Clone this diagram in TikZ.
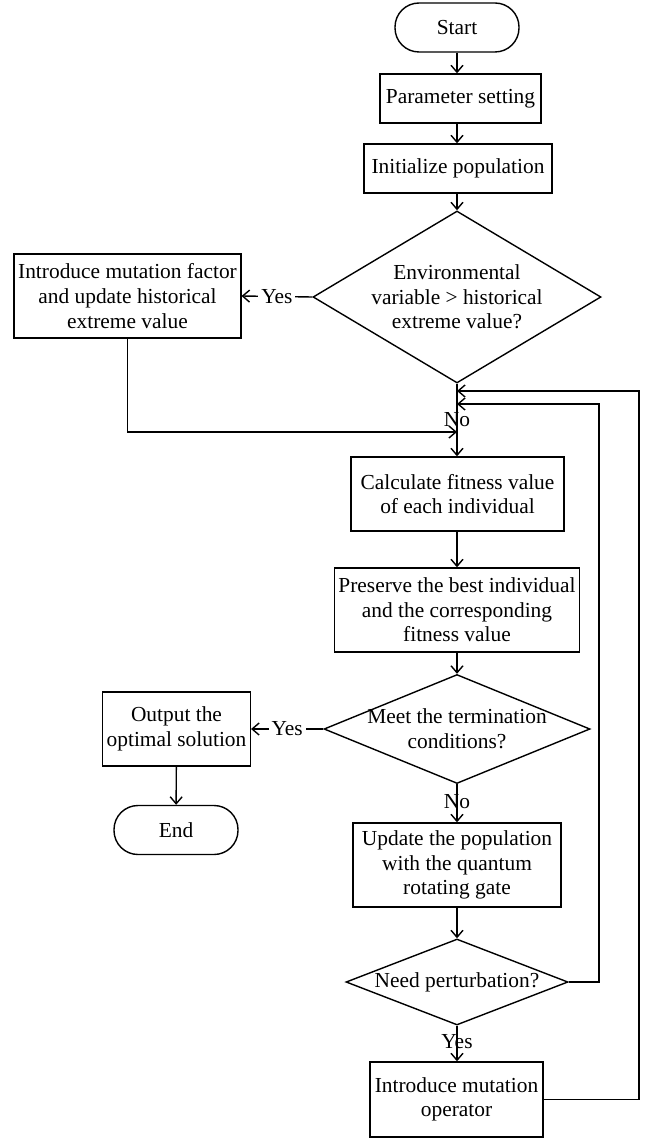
\documentclass[tikz,border=0pt]{standalone}
\usepackage{fontspec}
\setmainfont{Liberation Serif}
\usetikzlibrary{arrows.meta, shapes.geometric}

\tikzset{
  procbox/.style={draw, align=center, inner sep=2pt},
  termbox/.style={draw, rounded corners=12pt, minimum width=62pt, minimum height=24.5pt},
  decbox/.style={draw, diamond, inner sep=0pt},
  flow/.style={-{Straight Barb[length=3.5pt,width=6pt]}},
  yeslbl/.style={fill=white, inner sep=1.5pt}
}

\begin{document}
\begin{tikzpicture}[x=0.5pt, y=-0.5pt, line width=0.7pt, font=\fontsize{10.7}{12.3}\selectfont]
    \useasboundingbox (0,0) rectangle (649,1139);
    % main column
    \node[termbox] (start) at (457,27.5) {Start};
    \node[procbox, minimum width=80.5pt, minimum height=24.5pt] (param) at (460.5,98.5) {Parameter setting};
    \node[procbox, minimum width=94pt, minimum height=24.5pt] (init) at (458,168.5) {Initialize population};
    \node[decbox, minimum width=144pt, minimum height=86pt,
          label={[align=center]center:Environmental\\variable > historical\\extreme value?}] (envdec) at (457,297) {};
    \node[procbox, minimum width=112.5pt, minimum height=42pt] (mfac) at (127.5,296) {Introduce mutation factor\\and update historical\\extreme value};
    \node[procbox, minimum width=106.5pt, minimum height=37pt] (calc) at (457.5,494) {Calculate fitness value\\of each individual};
    \node[procbox, minimum width=121pt, minimum height=42pt] (pres) at (457,610) {Preserve the best individual\\and the corresponding\\fitness value};
    \node[decbox, minimum width=133pt, minimum height=54.5pt,
          label={[align=center]center:Meet the termination\\conditions?}] (termdec) at (457,729) {};
    \node[procbox, minimum width=72.5pt, minimum height=37pt] (outp) at (176.5,729) {Output the\\optimal solution};
    \node[termbox] (end) at (176,830) {End};
    \node[procbox, minimum width=104pt, minimum height=42pt] (upd) at (457,865) {Update the population\\with the quantum\\rotating gate};
    \node[decbox, minimum width=111pt, minimum height=43pt,
          label={center:Need perturbation?}] (pertdec) at (457,982) {};
    \node[procbox, minimum width=86.5pt, minimum height=37.5pt] (mop) at (456.5,1099.5) {Introduce mutation\\operator};

    % join points on the main line
    \coordinate (j1) at (457,432);
    \coordinate (j2) at (457,391);
    \coordinate (j3) at (457,404);
    \coordinate (r1) at (639,391);
    \coordinate (r2) at (599,404);

    \draw[flow] (start.south) -- (start.south |- param.north);
    \draw[flow] (start.south |- param.south) -- (start.south |- init.north);
    \draw[flow] (start.south |- init.south) -- (envdec.north);
    \draw[flow] (envdec.west) -- node[yeslbl] {Yes} (mfac.east);
    \draw[flow] (mfac.south) |- (j1);
    \draw[flow] (envdec.south) -- node[pos=0.5] {No} (envdec.south |- calc.north);
    \draw[flow] (envdec.south |- calc.south) -- (envdec.south |- pres.north);
    \draw[flow] (envdec.south |- pres.south) -- (termdec.north);
    \draw[flow] (termdec.west) -- node[yeslbl] {Yes} (outp.east);
    \draw[flow] (outp) -- (end);
    \draw[flow] (termdec.south) -- node[pos=0.45] {No} (upd.north);
    \draw[flow] (upd) -- (pertdec);
    \draw[flow] (pertdec.south) -- node[pos=0.45] {Yes} (pertdec.south |- mop.north);
    \draw[flow] (mop.east) -| (r1) -- (j2);
    \draw[flow] (pertdec.east) -| (r2) -- (j3);
\end{tikzpicture}
\end{document}
